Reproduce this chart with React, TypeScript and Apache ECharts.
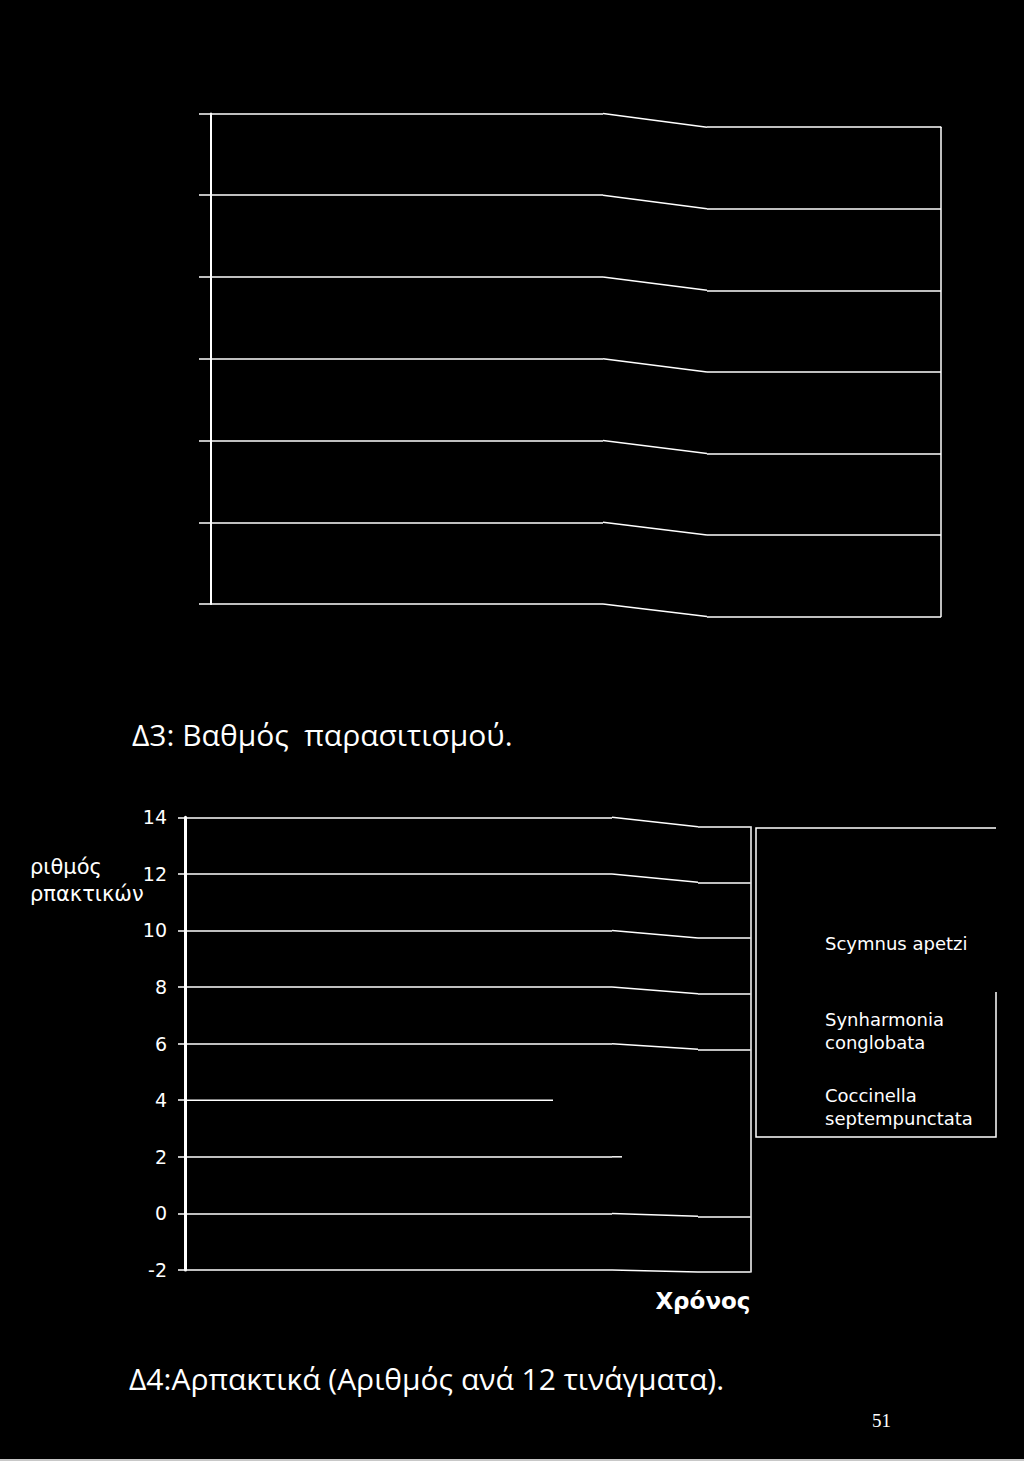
import React, { useEffect, useRef } from "react";
import * as echarts from "echarts";

// ---- data (the series are not visible on the scanned page) ----
const seriesNames = ["Scymnus apetzi", "Synharmonia conglobata", "Coccinella septempunctata"];
const scymnusValues: number[] = [];
const synharmoniaValues: number[] = [];
const coccinellaValues: number[] = [];
const bottomYMin = -2;
const bottomYMax = 14;
const bottomYStep = 2;
const topYMin = 0;
const topYMax = 6;
const topYStep = 1;

const titleTop = "Δ3: Βαθμός  παρασιτισμού.";
const titleBottom = "Δ4:Αρπακτικά (Αριθμός ανά 12 τινάγματα).";
const yName = "ριθμός\nρπακτικών";
const xName = "Χρόνος";
const pageNumber = "51";

const FONT = "'DejaVu Sans', Verdana, sans-serif";
const TITLE_FONT = "'Open Sans', 'DejaVu Sans', sans-serif";
const WHITE = "#ffffff";
const HIDDEN = "rgba(0,0,0,0)";

export default function App() {
  const ref = useRef<HTMLDivElement>(null);

  useEffect(() => {
    if (!ref.current) return;
    const chart = echarts.init(ref.current, undefined, { renderer: "svg" });

    const bottomTicks: number[] = [];
    for (let v = bottomYMin; v <= bottomYMax; v += bottomYStep) bottomTicks.push(v);
    const topTicks: number[] = [];
    for (let v = topYMin; v <= topYMax; v += topYStep) topTicks.push(v);

    const hiddenRightB = [2, 4];
    const hiddenLeftB = [4];

    const hiddenX = { type: "value", min: 0, max: 1, show: false };

    const baseGraphics: any[] = [
      {
        type: "text",
        left: 132,
        top: 719,
        style: { text: titleTop, fill: WHITE, font: `30px ${TITLE_FONT}` },
      },
      {
        type: "text",
        left: 30,
        top: 853,
        style: { text: yName, fill: WHITE, font: `21px ${FONT}`, lineHeight: 27 },
      },
      {
        type: "text",
        left: 129,
        top: 1363,
        style: { text: titleBottom, fill: WHITE, font: `30px ${TITLE_FONT}` },
      },
      {
        type: "text",
        left: 872,
        top: 1411,
        style: { text: pageNumber, fill: WHITE, font: `19px 'Liberation Serif', 'DejaVu Serif', serif` },
      },
      {
        type: "polyline",
        shape: { points: [[996, 992], [996, 1137], [756, 1137], [756, 828], [996, 828]] },
        style: { stroke: WHITE, lineWidth: 1.5, fill: "none" },
      },
      {
        type: "rect",
        shape: { x: 0, y: 1459, width: 1024, height: 2 },
        style: { fill: "#c8c8c8" },
      },
    ];

    const legendBase = {
      orient: "vertical",
      icon: "none",
      itemWidth: 0,
      itemHeight: 0,
      padding: 0,
      selectedMode: false,
      textStyle: { color: WHITE, fontSize: 18, fontFamily: FONT, lineHeight: 23 },
    };
    const wrap = (n: string) => n.replace(" ", "\n");

    const option: any = {
      animation: false,
      backgroundColor: "#000000",
      grid: [
        { left: 211, top: 113.4, width: 392, height: 490.7 },
        { left: 707, top: 127.2, width: 234, height: 489.4 },
        { left: 185, top: 817.3, width: 427, height: 452.7 },
        { left: 698, top: 826.7, width: 52.5, height: 445.3 },
      ],
      xAxis: [
        { ...hiddenX, gridIndex: 0 },
        { ...hiddenX, gridIndex: 1 },
        { ...hiddenX, gridIndex: 2 },
        {
          type: "value",
          min: 0,
          max: 1,
          gridIndex: 3,
          axisLine: { show: false, onZero: false },
          axisTick: { show: false },
          axisLabel: { show: false },
          splitLine: { show: false },
          name: xName,
          nameLocation: "end",
          nameGap: 0,
          nameTextStyle: {
            color: WHITE,
            fontSize: 23,
            fontWeight: "bold",
            fontFamily: FONT,
            align: "right",
            verticalAlign: "top",
            padding: [17, 0, 0, 0],
          },
        },
      ],
      yAxis: [
        {
          type: "value",
          gridIndex: 0,
          min: topYMin,
          max: topYMax,
          interval: topYStep,
          axisLine: { show: true, onZero: false, lineStyle: { color: WHITE, width: 2 } },
          axisTick: { show: true, inside: false, length: 12, lineStyle: { color: WHITE, width: 1.5 } },
          axisLabel: { show: false },
          splitLine: { show: true, lineStyle: { color: WHITE, width: 1.5 } },
        },
        {
          type: "value",
          gridIndex: 1,
          position: "right",
          min: topYMin,
          max: topYMax,
          interval: topYStep,
          axisLine: { show: true, onZero: false, lineStyle: { color: WHITE, width: 1.5 } },
          axisTick: { show: false },
          axisLabel: { show: false },
          splitLine: { show: true, lineStyle: { color: WHITE, width: 1.5 } },
        },
        {
          type: "value",
          gridIndex: 2,
          min: bottomYMin,
          max: bottomYMax,
          interval: bottomYStep,
          axisLine: { show: true, onZero: false, lineStyle: { color: WHITE, width: 3 } },
          axisTick: { show: true, inside: false, length: 7, lineStyle: { color: WHITE, width: 1.5 } },
          axisLabel: { show: true, color: WHITE, fontSize: 19, fontFamily: FONT, margin: 18 },
          splitLine: {
            show: true,
            lineStyle: {
              color: bottomTicks.map((v) => (hiddenLeftB.includes(v) ? HIDDEN : WHITE)),
              width: 1.5,
            },
          },
        },
        {
          type: "value",
          gridIndex: 3,
          position: "right",
          min: bottomYMin,
          max: bottomYMax,
          interval: bottomYStep,
          axisLine: { show: true, onZero: false, lineStyle: { color: WHITE, width: 1.5 } },
          axisTick: { show: false },
          axisLabel: { show: false },
          splitLine: {
            show: true,
            lineStyle: {
              color: bottomTicks.map((v) => (hiddenRightB.includes(v) ? HIDDEN : WHITE)),
              width: 1.5,
            },
          },
        },
      ],
      legend: [
        { ...legendBase, data: [seriesNames[0]], left: 820, top: 932 },
        { ...legendBase, data: [seriesNames[1]], left: 820, top: 1008, formatter: wrap },
        { ...legendBase, data: [seriesNames[2]], left: 820, top: 1084, formatter: wrap },
      ],
      series: [
        { type: "line", name: seriesNames[0], xAxisIndex: 2, yAxisIndex: 2, data: scymnusValues },
        { type: "line", name: seriesNames[1], xAxisIndex: 2, yAxisIndex: 2, data: synharmoniaValues },
        { type: "line", name: seriesNames[2], xAxisIndex: 2, yAxisIndex: 2, data: coccinellaValues },
      ],
      graphic: baseGraphics,
    };

    chart.setOption(option);

    // bent parts of the scanned grid lines, joined through the axes' own scales
    const extra: any[] = [];
    const seg = (x1: number, y1: number, x2: number, y2: number) => ({
      type: "line",
      shape: { x1, y1, x2, y2 },
      style: { stroke: WHITE, lineWidth: 1.5 },
    });
    topTicks.forEach((v) => {
      const yl = chart.convertToPixel({ yAxisIndex: 0 } as any, v) as unknown as number;
      const yr = chart.convertToPixel({ yAxisIndex: 1 } as any, v) as unknown as number;
      extra.push(seg(603, yl, 707, yr));
    });
    bottomTicks.forEach((v) => {
      const yl = chart.convertToPixel({ yAxisIndex: 2 } as any, v) as unknown as number;
      const yr = chart.convertToPixel({ yAxisIndex: 3 } as any, v) as unknown as number;
      if (v === 4) {
        extra.push(seg(185, yl, 553, yl));
      } else if (v === 2) {
        extra.push(seg(612, yl, 622, yl));
      } else {
        extra.push(seg(612, yl, 698, yr));
      }
    });
    chart.setOption({ graphic: [...baseGraphics, ...extra] });

    return () => chart.dispose();
  }, []);

  return (
    <div
      ref={ref}
      style={{ position: "absolute", left: 0, top: 0, width: 1024, height: 1461, background: "#000" }}
    />
  );
}
